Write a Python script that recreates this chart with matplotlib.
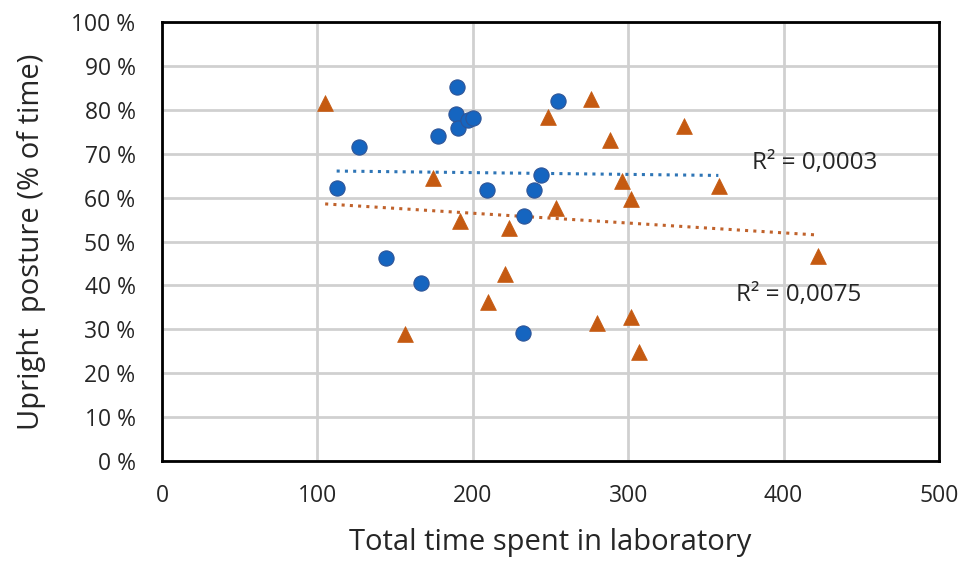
import numpy as np
import matplotlib.pyplot as plt

# blue series (circles)
blue_x = [112.6, 126.8, 144.1, 166.7, 177.6, 189.8, 189.2, 190.5, 197.0, 200.0,
          208.9, 233.2, 239.4, 243.7, 255.1, 232.5]
blue_y = [62.3, 71.6, 46.3, 40.5, 74.1, 85.3, 79.1, 75.9, 77.8, 78.1,
          61.8, 55.9, 61.8, 65.2, 82.1, 29.2]

# orange series (triangles)
orange_x = [105.1, 174.2, 191.8, 223.1, 220.5, 253.3, 248.2, 275.9, 288.1, 335.7,
            295.8, 301.8, 358.2, 422.4, 209.7, 156.2, 280.1, 301.8, 307.0]
orange_y = [81.6, 64.6, 54.6, 53.2, 42.6, 57.6, 78.5, 82.6, 73.1, 76.4,
            63.9, 59.7, 62.6, 46.8, 36.2, 28.9, 31.5, 32.9, 24.7]

# linear trend lines (ends)
blue_trend_x = [112.4, 358.0]
blue_trend_y = [66.1, 65.1]
orange_trend_x = [105.0, 422.0]
orange_trend_y = [58.6, 51.5]

r2_labels = ["R² = 0,0003", "R² = 0,0075"]
font = "Open Sans"
txt = "#262626"

fig = plt.figure(figsize=(9.63, 5.61), dpi=100)
ax = fig.add_axes([0.1682, 0.1788, 0.8069, 0.7811])

ax.set_xlim(0, 500)
ax.set_ylim(0, 100)
ax.set_xticks(range(0, 501, 100))
ax.set_yticks(range(0, 101, 10))
ax.set_yticklabels([f"{v} %" for v in range(0, 101, 10)])
ax.grid(True, color="#d0d0d0", linewidth=2)
ax.set_axisbelow(True)
for s in ax.spines.values():
    s.set_linewidth(2)
    s.set_color("black")
ax.tick_params(length=0, labelsize=16.5)
ax.tick_params(axis="x", pad=17)
ax.tick_params(axis="y", pad=19)
for lab in ax.get_xticklabels() + ax.get_yticklabels():
    lab.set_fontfamily(font)
    lab.set_color(txt)

ax.plot(blue_trend_x, blue_trend_y, linestyle=(0, (1, 1.7)), color="#2e75b6", linewidth=2.2)
ax.plot(orange_trend_x, orange_trend_y, linestyle=(0, (1, 1.7)), color="#c0622b", linewidth=2.2)

ax.scatter(blue_x, blue_y, s=120, marker="o", color="#1565c0", edgecolors="#2f5597",
           linewidths=0.8, zorder=3)
ax.scatter(orange_x, orange_y, s=130, marker="^", color="#c55a11", edgecolors="#c55a11",
           linewidths=0.5, zorder=3)

ax.text(379.7, 68.0, r2_labels[0], fontsize=17.5, family=font, color=txt, va="center")
ax.text(369.4, 37.8, r2_labels[1], fontsize=17.5, family=font, color=txt, va="center")

ax.set_xlabel("Total time spent in laboratory", fontsize=21, family=font, color=txt, labelpad=14)
ax.set_ylabel("Upright  posture (% of time)", fontsize=21, family=font, color=txt, labelpad=18)

fig.savefig("out.png", dpi=100)
